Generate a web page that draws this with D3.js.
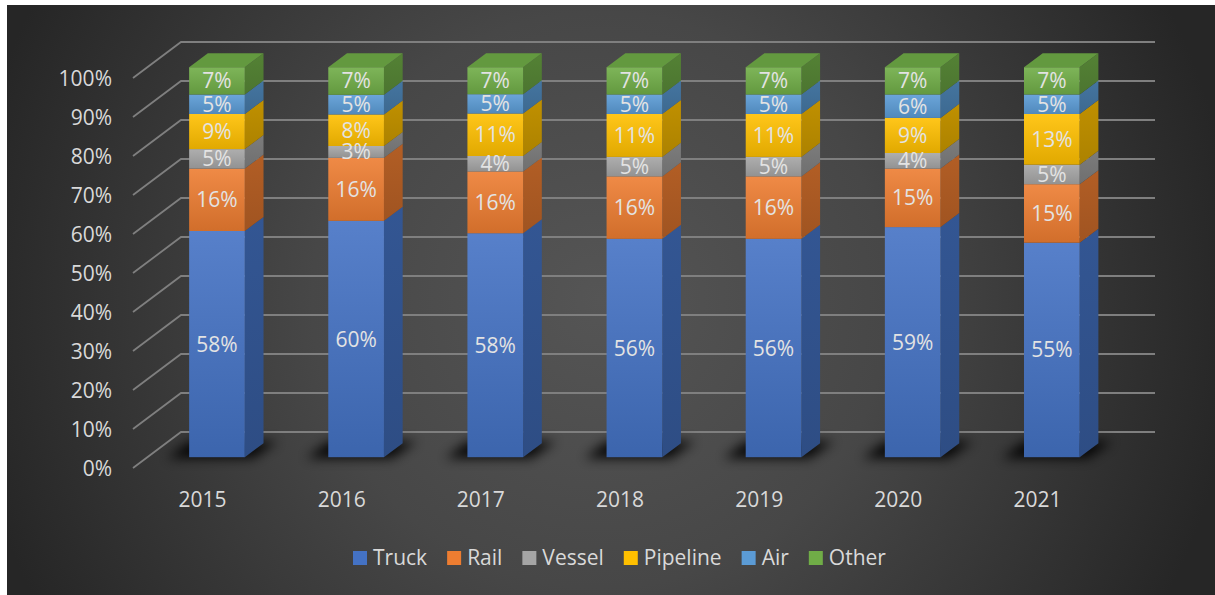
<!DOCTYPE html>
<html>
<head>
<meta charset="utf-8">
<script src="https://cdn.jsdelivr.net/npm/d3@7"></script>
<style>
  html, body { margin: 0; padding: 0; background: #ffffff; }
  svg { display: block; }
  text { font-family: "Open Sans", "Noto Sans", sans-serif; }
</style>
</head>
<body>
<svg id="chart"></svg>
<script>
// categories
var years = ['2015', '2016', '2017', '2018', '2019', '2020', '2021']
// series, bottom to top of each stack (shares in %)
var seriesNames = ['Truck', 'Rail', 'Vessel', 'Pipeline', 'Air', 'Other']
var truck    = [58, 60, 58, 56, 56, 59, 55]
var rail     = [16, 16, 16, 16, 16, 15, 15]
var vessel   = [5, 3, 4, 5, 5, 4, 5]
var pipeline = [9, 8, 11, 11, 11, 9, 13]
var air      = [5, 5, 5, 5, 5, 6, 5]
var other    = [7, 7, 7, 7, 7, 7, 7]
var seriesColors = ['#4472C4', '#ED7D31', '#A5A5A5', '#FFC000', '#5B9BD5', '#70AD47']

var W = 1215, H = 595
var svg = d3.select('#chart').attr('width', W).attr('height', H)
var defs = svg.append('defs')

// background panel with radial gradient
var bg = defs.append('radialGradient').attr('id', 'bg')
    .attr('gradientUnits', 'userSpaceOnUse')
    .attr('cx', 600).attr('cy', 300).attr('r', 640)
bg.append('stop').attr('offset', 0).attr('stop-color', '#555555')
bg.append('stop').attr('offset', 0.45).attr('stop-color', '#474747')
bg.append('stop').attr('offset', 1).attr('stop-color', '#262626')
svg.append('rect').attr('x', 7).attr('y', 5).attr('width', W - 7).attr('height', H - 5)
   .attr('fill', 'url(#bg)')

// 3d geometry: front of floor, full depth offset, bar depth slice
var depthX = 48, depthY = -36
var t0 = 0.3, t1 = 0.69

var x = d3.scaleBand().domain(years).range([133, 1107]).paddingInner(0.6).paddingOuter(0.3)
var y = d3.scaleLinear().domain([0, 1]).range([468, 78])
var ticks = d3.range(0, 11).map(d => d / 10)

// gridlines: side wall diagonal + back wall line
svg.append('g').selectAll('path').data(ticks).join('path')
   .attr('d', d => `M133,${y(d)}L${133 + depthX},${y(d) + depthY}L1155,${y(d) + depthY}`)
   .attr('fill', 'none').attr('stroke', '#7f7f7f').attr('stroke-width', 1.8)

// stack data (100% stacked)
var rows = years.map((yr, i) => ({
    year: yr, Truck: truck[i], Rail: rail[i], Vessel: vessel[i],
    Pipeline: pipeline[i], Air: air[i], Other: other[i]
}))
var stacked = d3.stack().keys(seriesNames).offset(d3.stackOffsetExpand)(rows)
var color = d3.scaleOrdinal().domain(seriesNames).range(seriesColors)

// gradients per series
seriesNames.forEach((s, i) => {
    var base = d3.color(color(s))
    var gf = defs.append('linearGradient').attr('id', 'front' + i)
        .attr('x1', 0).attr('y1', 0).attr('x2', 0).attr('y2', 1)
    gf.append('stop').attr('offset', 0).attr('stop-color', d3.interpolateRgb(base, '#ffffff')(0.1))
    gf.append('stop').attr('offset', 1).attr('stop-color', base.darker(0.35))
    var gs = defs.append('linearGradient').attr('id', 'side' + i)
        .attr('x1', 0).attr('y1', 0).attr('x2', 0).attr('y2', 1)
    gs.append('stop').attr('offset', 0).attr('stop-color', base.darker(0.8))
    gs.append('stop').attr('offset', 1).attr('stop-color', base.darker(1.1))
})

// soft floor shadow
var blur = defs.append('filter').attr('id', 'blur')
    .attr('x', -0.5).attr('y', -1).attr('width', 2).attr('height', 3)
blur.append('feGaussianBlur').attr('stdDeviation', 6)

var bw = x.bandwidth()
var bdx = (t1 - t0) * depthX, bdy = (t1 - t0) * depthY
var fx = d => x(d) + t0 * depthX
var fy = v => y(v) + t0 * depthY

svg.append('g').selectAll('path').data(years).join('path')
   .attr('d', d => {
       var xl = fx(d), yb = fy(0)
       return `M${xl - 22},${yb + 1}L${xl + bw + 8},${yb + 1}L${xl + bw + bdx + 14},${yb + bdy - 2}L${xl + bdx - 18},${yb + bdy - 2}Z`
   })
   .attr('fill', '#000').attr('opacity', 0.9).attr('filter', 'url(#blur)')

// bars
var bars = svg.append('g')
stacked.forEach((layer, i) => {
    var g = bars.append('g')
    g.selectAll('.side').data(layer).join('path')
     .attr('d', d => {
         var xr = fx(d.data.year) + bw, yt = fy(d[1]), yb = fy(d[0])
         return `M${xr},${yt}L${xr + bdx},${yt + bdy}L${xr + bdx},${yb + bdy}L${xr},${yb}Z`
     })
     .attr('fill', `url(#side${i})`)
    g.selectAll('.front').data(layer).join('rect')
     .attr('x', d => fx(d.data.year))
     .attr('y', d => fy(d[1]))
     .attr('width', bw)
     .attr('height', d => fy(d[0]) - fy(d[1]))
     .attr('fill', `url(#front${i})`)
    if (i === stacked.length - 1) {
        g.selectAll('.top').data(layer).join('path')
         .attr('d', d => {
             var xl = fx(d.data.year), yt = fy(d[1])
             return `M${xl},${yt}L${xl + bdx},${yt + bdy}L${xl + bw + bdx},${yt + bdy}L${xl + bw},${yt}Z`
         })
         .attr('fill', d3.color(color(seriesNames[i])).darker(0.35))
    }
})

// data labels
stacked.forEach((layer, i) => {
    svg.append('g').selectAll('text').data(layer).join('text')
       .attr('x', d => fx(d.data.year) + bw / 2)
       .attr('y', d => (fy(d[0]) + fy(d[1])) / 2 + 7.5)
       .attr('text-anchor', 'middle')
       .attr('font-size', 21)
       .attr('fill', '#e3e3e3')
       .text(d => d.data[layer.key] + '%')
})

// axes
var yAxis = svg.append('g').attr('transform', 'translate(133,0)')
   .call(d3.axisLeft(y).tickValues(ticks).tickFormat(d3.format('.0%')).tickSize(0).tickPadding(21))
var xAxis = svg.append('g').attr('transform', 'translate(0,468)')
   .call(d3.axisBottom(x).tickSize(0).tickPadding(24))
;[yAxis, xAxis].forEach(a => {
    a.select('.domain').remove()
    a.selectAll('text').attr('font-size', 21).attr('fill', '#d9d9d9')
     .attr('font-family', '"Open Sans", "Noto Sans", sans-serif')
})
yAxis.selectAll('text').attr('dy', '0.38em')

// legend
var legend = svg.append('g')
var lx = 353
seriesNames.forEach((s, i) => {
    var item = legend.append('g')
    item.append('rect').attr('x', lx).attr('y', 551).attr('width', 14).attr('height', 14)
        .attr('fill', color(s))
    var t = item.append('text').attr('x', lx + 20).attr('y', 565)
        .attr('font-size', 21).attr('fill', '#d9d9d9').text(s)
    lx += 20 + t.node().getComputedTextLength() + 20
})
</script>
</body>
</html>
